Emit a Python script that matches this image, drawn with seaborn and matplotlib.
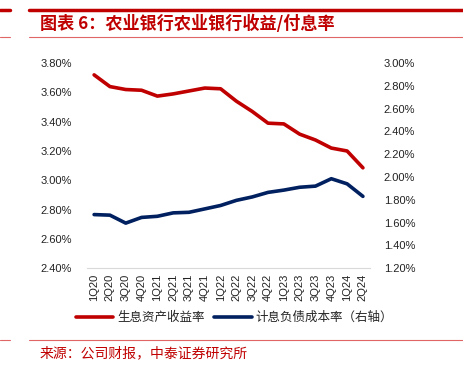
import numpy as np
import pandas as pd
import matplotlib.pyplot as plt
import matplotlib.lines as mlines
import seaborn as sns
from matplotlib.ticker import FuncFormatter

sns.set_style("white")
plt.rcParams['font.family'] = ['Noto Sans CJK SC', 'DejaVu Sans']

# Data (%)
quarters = ["1Q20", "2Q20", "3Q20", "4Q20", "1Q21", "2Q21", "3Q21", "4Q21", "1Q22",
            "2Q22", "3Q22", "4Q22", "1Q23", "2Q23", "3Q23", "4Q23", "1Q24", "2Q24"]
asset_yield = [3.72, 3.64, 3.62, 3.615, 3.575, 3.59, 3.61, 3.63, 3.625,
               3.54, 3.47, 3.39, 3.385, 3.315, 3.275, 3.22, 3.20, 3.085]
liability_cost = [1.67, 1.665, 1.595, 1.645, 1.655, 1.685, 1.69, 1.72, 1.75,
                  1.795, 1.825, 1.865, 1.885, 1.91, 1.92, 1.985, 1.94, 1.83]

red = "#C00000"
navy = "#002060"
label_red = "生息资产收益率"
label_navy = "计息负债成本率（右轴）"

df = pd.DataFrame({"q": np.arange(len(quarters)), "yield": asset_yield, "cost": liability_cost})

fig = plt.figure(figsize=(4.64, 3.76), dpi=100)
ax = fig.add_axes([0.1875, 0.287, 0.61, 0.545])
ax2 = ax.twinx()

sns.lineplot(data=df, x="q", y="yield", ax=ax, color=red, linewidth=2.6, solid_joinstyle="round", solid_capstyle="round")
sns.lineplot(data=df, x="q", y="cost", ax=ax2, color=navy, linewidth=2.6, solid_joinstyle="round", solid_capstyle="round")

ax.set_xlim(-0.45, len(quarters) - 0.55)
ax.set_ylim(2.40, 3.80)
ax2.set_ylim(1.20, 3.00)
ax.set_yticks(np.arange(2.40, 3.81, 0.20))
ax2.set_yticks(np.arange(1.20, 3.01, 0.20))
fmt = FuncFormatter(lambda v, p: f"{v:.2f}%")
ax.yaxis.set_major_formatter(fmt)
ax2.yaxis.set_major_formatter(fmt)

ax.set_xticks(df["q"])
ax.set_xticklabels(quarters, rotation=90)
ax.set_xlabel("")
ax.set_ylabel("")
ax2.set_ylabel("")
for a in (ax, ax2):
    a.tick_params(axis="both", length=0, labelsize=8, colors="#222222")
    for lab in a.get_xticklabels() + a.get_yticklabels():
        lab.set_family(["Liberation Sans"])
    for s in a.spines.values():
        s.set_visible(False)
ax.spines["bottom"].set_visible(True)
ax.spines["bottom"].set_color("#d9d9d9")
ax.tick_params(axis="y", pad=11)
ax2.tick_params(axis="y", pad=10)
ax.tick_params(axis="x", pad=4)

h1 = mlines.Line2D([], [], color=red, linewidth=2.6)
h2 = mlines.Line2D([], [], color=navy, linewidth=2.6)
fig.legend([h1, h2], [label_red, label_navy], loc="center", bbox_to_anchor=(0.505, 0.155),
           ncol=2, frameon=False, fontsize=9, handlelength=3.0, handletextpad=0.3, columnspacing=0.8)

# header / footer decorations
for yy, lw in [(1 - 10 / 376, 2.5), (1 - 37 / 376, 0.8)]:
    fig.add_artist(mlines.Line2D([29 / 464, 1], [yy, yy], color=red if lw > 1 else "#e06666", linewidth=lw))
    fig.add_artist(mlines.Line2D([0, 10 / 464], [yy, yy], color=red if lw > 1 else "#e06666", linewidth=lw))
fig.add_artist(mlines.Line2D([29 / 464, 1], [1 - 340 / 376] * 2, color="#e06666", linewidth=0.8))
fig.add_artist(mlines.Line2D([0, 10 / 464], [1 - 340 / 376] * 2, color="#e06666", linewidth=0.8))

fig.text(40 / 464, 1 - 24 / 376, "图表 6：农业银行农业银行收益/付息率", color=red, fontsize=12.3,
         fontweight="bold", fontstyle="italic", va="center", ha="left")
fig.text(40 / 464, 1 - 353 / 376, "来源：公司财报，中泰证券研究所", color=red, fontsize=10,
         va="center", ha="left")

fig.savefig("out.png", dpi=100)
